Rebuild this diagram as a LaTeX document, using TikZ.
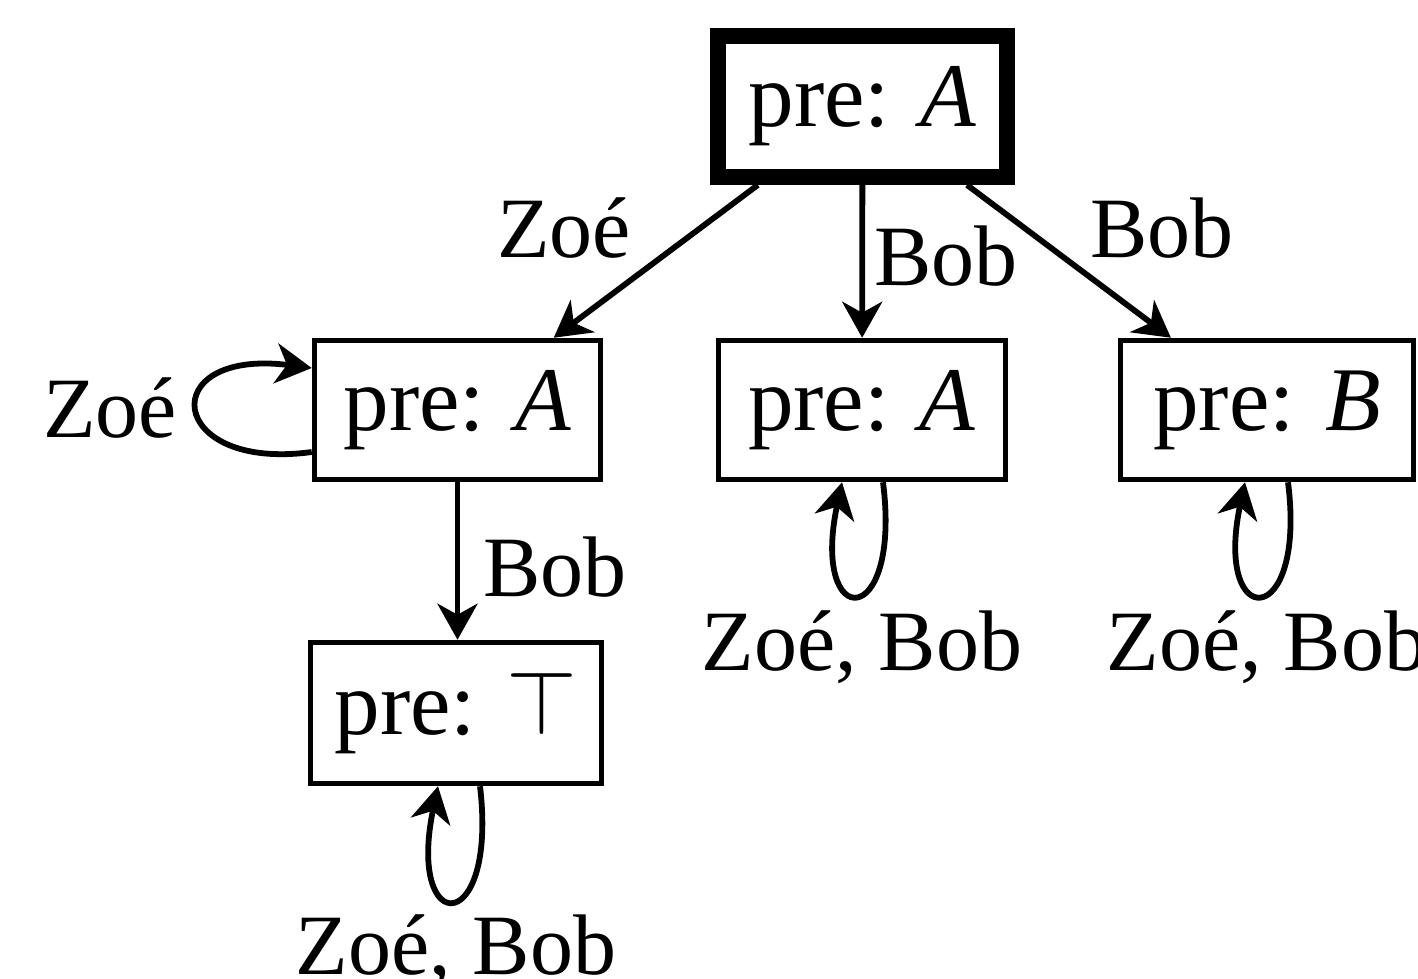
\RequirePackage{fix-cm}
\documentclass[tikz,border=0pt]{standalone}
\usepackage{fontspec}
\setmainfont{Liberation Serif}
\usetikzlibrary{arrows.meta,calc}
\begin{document}
\begin{tikzpicture}[x=0.5pt,y=-0.5pt,
  every node/.style={font=\fontsize{45.5}{52}\selectfont},
  state/.style={draw, line width=2.75pt, inner sep=0pt, minimum height=69.5pt},
  initstate/.style={draw, line width=8pt, inner sep=0pt, minimum width=144.5pt, minimum height=70.5pt},
  lbl/.style={anchor=base, inner sep=0pt, font=\fontsize{43}{50}\selectfont},
  edge/.style={line width=2.9pt, -{Stealth[length=18pt,width=20pt,inset=5.5pt]}},
]
\useasboundingbox (0,0) rectangle (1418,979);

\node[initstate] (top) at (862.5,106.5) {pre: \textit{A}};
\node[state, minimum width=143pt] (l1) at (457.5,410) {pre: \textit{A}};
\node[state, minimum width=143.5pt] (m) at (862,410) {pre: \textit{A}};
\node[state, minimum width=146.5pt] (r) at (1267,410) {pre: \textit{B}};
\node[state, minimum width=145.5pt, minimum height=70.5pt] (bt) at (456,713) {pre: $\top$};

\draw[edge] (top) -- (l1);
\draw[edge] (top) -- (m);
\draw[edge] (top) -- (r);
\draw[edge] (l1.south) -- (l1.south |- bt.north);

\draw[edge] ($(l1.west)+(0,42)$) .. controls ($(l1.west)+(-146,62)$) and ($(l1.west)+(-158,-62)$) .. ($(l1.west)+(0,-42)$);
\draw[edge] ($(m.south)+(21,0)$) .. controls ($(m.south)+(40,150)$) and ($(m.south)+(-52,150)$) .. ($(m.south)+(-20,0)$);
\draw[edge] ($(r.south)+(21,0)$) .. controls ($(r.south)+(40,150)$) and ($(r.south)+(-54,150)$) .. ($(r.south)+(-22,0)$);
\draw[edge] ($(bt.south)+(24,0)$) .. controls ($(bt.south)+(42,152)$) and ($(bt.south)+(-50,152)$) .. ($(bt.south)+(-18,0)$);

\node[lbl] (lz1) at (564,257) {Zoé};
\node[lbl] (lb1) at (946,285) {Bob};
\node[lbl] (lb2) at (1162,257) {Bob};
\node[lbl] (lb3) at (555,596) {Bob};
\node[lbl] (lz2) at (110,437) {Zoé};
\node[lbl] (lm) at (862,670) {Zoé, Bob};
\node[lbl] (lr) at (1267,670) {Zoé, Bob};
\node[lbl] (lbt) at (456,974) {Zoé, Bob};
\end{tikzpicture}
\end{document}
